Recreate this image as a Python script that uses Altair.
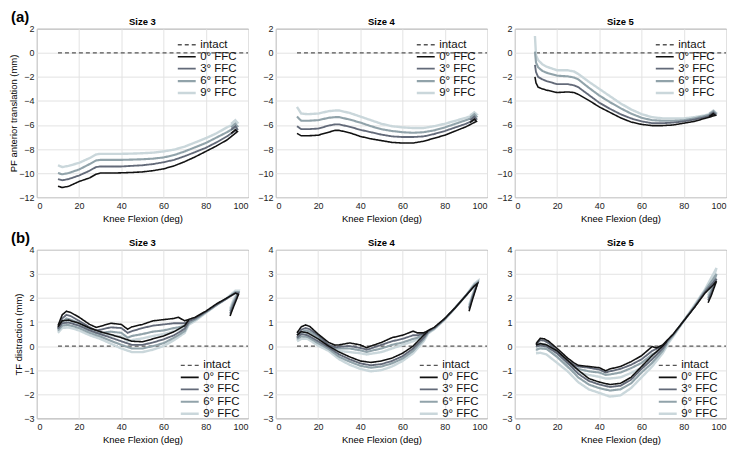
import altair as alt
import pandas as pd

FONT = "Liberation Sans"

SERIES = ["intact", "0° FFC", "3° FFC", "6° FFC", "9° FFC"]
COLORS = ["#555555", "#111111", "#636a79", "#91a3aa", "#cad7db"]
DASHES = [[4, 3], [1, 0], [1, 0], [1, 0], [1, 0]]
WIDTHS = [1.3, 2.4, 2.1, 2.1, 2.1]

SIZES = ["Size 3", "Size 4", "Size 5"]
X_TICKS = [0, 20, 40, 60, 80, 100]
TOP_Y_TICKS = [-12, -10, -8, -6, -4, -2, 0, 2]
BOT_Y_TICKS = [-3, -2, -1, 0, 1, 2, 3, 4]

INTACT_X = [10, 100]
INTACT_Y = [0, 0]

# ---------- (a) PF anterior translation ----------
TOP_X = [10, 12, 15, 20, 25, 28, 30, 35, 40, 45, 50, 55, 60, 65, 70, 75, 80, 85, 90, 95, 94, 92]
top_s3 = {
    "0° FFC": [-11.1, -11.2, -11.1, -10.7, -10.4, -10.1, -10.0, -10.0, -9.98, -9.95, -9.9, -9.8, -9.65, -9.4, -9.05, -8.65, -8.2, -7.75, -7.25, -6.55, -6.4, -6.7],
    "3° FFC": [-10.5, -10.6, -10.5, -10.2, -9.8, -9.5, -9.45, -9.45, -9.45, -9.4, -9.35, -9.25, -9.1, -8.9, -8.6, -8.25, -7.9, -7.45, -6.95, -6.35, -6.1, -6.4],
    "6° FFC": [-10.0, -10.1, -10.0, -9.7, -9.25, -8.95, -8.9, -8.9, -8.9, -8.88, -8.85, -8.8, -8.7, -8.5, -8.2, -7.85, -7.5, -7.05, -6.6, -6.1, -5.9, -6.2],
    "9° FFC": [-9.35, -9.5, -9.4, -9.15, -8.75, -8.45, -8.4, -8.4, -8.4, -8.38, -8.35, -8.3, -8.2, -8.05, -7.8, -7.45, -7.1, -6.7, -6.2, -5.8, -5.6, -5.9],
}
top_s4 = {
    "0° FFC": [-6.7, -6.9, -6.9, -6.85, -6.6, -6.45, -6.45, -6.65, -6.95, -7.15, -7.3, -7.45, -7.5, -7.5, -7.35, -7.1, -6.85, -6.5, -6.15, -5.7, -5.5, -5.8],
    "3° FFC": [-6.1, -6.35, -6.35, -6.3, -6.05, -5.95, -5.95, -6.15, -6.4, -6.6, -6.8, -6.95, -7.0, -7.0, -6.95, -6.75, -6.5, -6.2, -5.9, -5.5, -5.3, -5.6],
    "6° FFC": [-5.3, -5.65, -5.65, -5.6, -5.4, -5.35, -5.35, -5.55, -5.8, -6.1, -6.35, -6.5, -6.6, -6.65, -6.6, -6.45, -6.2, -5.9, -5.6, -5.3, -5.1, -5.4],
    "9° FFC": [-4.5, -5.05, -5.1, -5.05, -4.85, -4.8, -4.8, -5.0, -5.3, -5.6, -5.9, -6.1, -6.2, -6.25, -6.25, -6.1, -5.9, -5.65, -5.4, -5.1, -4.95, -5.2],
}
TOP5_X = [9.5, 10, 11, 13, 15, 20, 25, 28, 30, 35, 40, 45, 50, 55, 60, 65, 70, 75, 80, 85, 90, 95, 94, 92]
top_s5 = {
    "0° FFC": [-2.0, -2.5, -2.85, -3.0, -3.1, -3.3, -3.25, -3.3, -3.45, -3.95, -4.5, -4.95, -5.4, -5.75, -5.95, -6.05, -6.05, -6.0, -5.85, -5.7, -5.45, -5.2, -5.05, -5.3],
    "3° FFC": [-1.0, -1.6, -2.0, -2.2, -2.35, -2.6, -2.6, -2.7, -2.85, -3.5, -4.15, -4.65, -5.1, -5.45, -5.7, -5.85, -5.85, -5.8, -5.7, -5.55, -5.35, -5.1, -4.95, -5.2],
    "6° FFC": [0.1, -0.8, -1.2, -1.5, -1.65, -1.9, -1.95, -2.05, -2.2, -2.9, -3.55, -4.1, -4.6, -5.05, -5.4, -5.6, -5.65, -5.65, -5.6, -5.45, -5.25, -5.0, -4.85, -5.1],
    "9° FFC": [1.4, -0.2, -0.6, -0.95, -1.15, -1.45, -1.45, -1.55, -1.75, -2.4, -3.0, -3.6, -4.2, -4.7, -5.1, -5.35, -5.45, -5.45, -5.45, -5.35, -5.2, -4.95, -4.8, -5.05],
}

# ---------- (b) TF distraction (hysteresis loops) ----------
UP_X = [10, 12, 14, 16, 20, 25, 28, 30, 35, 40, 43, 45, 50, 55, 60, 65, 67, 70, 75, 80, 85, 90, 94, 95.5, 93, 91.5]
DOWN_X = [72, 70, 65, 60, 55, 50, 45, 40, 35, 30, 25, 20, 15, 12, 10]

bot_s3_up = {
    "0° FFC": [0.85, 1.3, 1.45, 1.4, 1.2, 0.9, 0.78, 0.82, 0.95, 0.9, 0.7, 0.8, 0.9, 1.05, 1.1, 1.15, 1.2, 1.05, 1.2, 1.45, 1.75, 2.0, 2.2, 2.15, 1.6, 1.25],
    "3° FFC": [0.75, 1.15, 1.3, 1.25, 1.05, 0.78, 0.65, 0.68, 0.78, 0.75, 0.55, 0.62, 0.75, 0.85, 0.9, 0.95, 0.95, 0.95, 1.15, 1.42, 1.72, 1.98, 2.2, 2.2, 1.7, 1.35],
    "6° FFC": [0.7, 1.0, 1.15, 1.1, 0.95, 0.7, 0.55, 0.55, 0.6, 0.55, 0.35, 0.42, 0.5, 0.6, 0.65, 0.75, 0.78, 0.85, 1.1, 1.4, 1.7, 1.98, 2.25, 2.25, 1.8, 1.45],
    "9° FFC": [0.6, 0.9, 1.0, 0.98, 0.85, 0.6, 0.45, 0.45, 0.45, 0.4, 0.2, 0.25, 0.32, 0.42, 0.5, 0.62, 0.68, 0.78, 1.05, 1.38, 1.7, 2.0, 2.3, 2.3, 1.9, 1.55],
}
bot_s3_down = {
    "0° FFC": [1.1, 0.85, 0.6, 0.42, 0.3, 0.18, 0.2, 0.35, 0.48, 0.6, 0.75, 0.95, 1.08, 1.05, 0.8],
    "3° FFC": [1.02, 0.72, 0.45, 0.28, 0.15, 0.05, 0.05, 0.2, 0.35, 0.5, 0.65, 0.85, 0.98, 0.95, 0.72],
    "6° FFC": [0.95, 0.62, 0.35, 0.12, 0.0, -0.1, -0.1, 0.05, 0.22, 0.4, 0.55, 0.75, 0.88, 0.85, 0.65],
    "9° FFC": [0.9, 0.55, 0.25, 0.0, -0.15, -0.25, -0.25, -0.1, 0.1, 0.3, 0.45, 0.65, 0.78, 0.75, 0.55],
}
bot_s4_up = {
    "0° FFC": [0.55, 0.8, 0.88, 0.82, 0.5, 0.15, 0.04, 0.05, 0.13, 0.05, -0.07, 0.0, 0.15, 0.35, 0.45, 0.62, 0.55, 0.55, 0.78, 1.15, 1.6, 2.1, 2.5, 2.6, 1.9, 1.45],
    "3° FFC": [0.45, 0.68, 0.75, 0.7, 0.45, 0.05, -0.05, -0.03, 0.0, -0.08, -0.15, -0.1, 0.05, 0.2, 0.3, 0.45, 0.45, 0.5, 0.75, 1.13, 1.6, 2.1, 2.5, 2.6, 2.0, 1.55],
    "6° FFC": [0.35, 0.58, 0.65, 0.6, 0.38, 0.0, -0.1, -0.1, -0.1, -0.18, -0.25, -0.2, -0.1, 0.05, 0.15, 0.3, 0.35, 0.45, 0.72, 1.12, 1.6, 2.1, 2.55, 2.65, 2.05, 1.6],
    "9° FFC": [0.25, 0.48, 0.55, 0.5, 0.3, -0.08, -0.18, -0.2, -0.25, -0.3, -0.35, -0.32, -0.25, -0.1, 0.05, 0.2, 0.28, 0.4, 0.7, 1.1, 1.6, 2.1, 2.6, 2.7, 2.1, 1.7],
}
bot_s4_down = {
    "0° FFC": [0.62, 0.45, 0.0, -0.3, -0.5, -0.62, -0.68, -0.62, -0.45, -0.25, 0.0, 0.3, 0.55, 0.6, 0.45],
    "3° FFC": [0.58, 0.35, -0.1, -0.42, -0.62, -0.75, -0.8, -0.72, -0.55, -0.35, -0.05, 0.2, 0.45, 0.5, 0.35],
    "6° FFC": [0.55, 0.28, -0.2, -0.52, -0.72, -0.85, -0.9, -0.82, -0.65, -0.45, -0.12, 0.12, 0.38, 0.4, 0.3],
    "9° FFC": [0.5, 0.2, -0.3, -0.62, -0.85, -1.0, -1.05, -0.95, -0.78, -0.55, -0.2, 0.02, 0.3, 0.3, 0.2],
}
bot_s5_up = {
    "0° FFC": [0.1, 0.32, 0.3, 0.2, -0.1, -0.5, -0.7, -0.8, -0.85, -0.9, -1.03, -0.95, -0.85, -0.65, -0.4, -0.02, -0.08, 0.05, 0.5, 1.05, 1.6, 2.2, 2.55, 2.7, 2.1, 1.8],
    "3° FFC": [0.05, 0.25, 0.22, 0.12, -0.2, -0.6, -0.78, -0.85, -0.9, -0.98, -1.1, -1.05, -0.95, -0.78, -0.55, -0.2, -0.12, 0.0, 0.48, 1.05, 1.62, 2.25, 2.65, 2.8, 2.2, 1.9],
    "6° FFC": [-0.05, 0.1, 0.08, 0.0, -0.3, -0.72, -0.88, -0.95, -1.05, -1.1, -1.2, -1.18, -1.1, -0.92, -0.7, -0.35, -0.25, -0.08, 0.45, 1.05, 1.65, 2.3, 2.8, 3.0, 2.3, 2.0],
    "9° FFC": [-0.2, -0.05, -0.08, -0.15, -0.45, -0.88, -1.05, -1.1, -1.2, -1.28, -1.35, -1.35, -1.3, -1.12, -0.9, -0.5, -0.38, -0.2, 0.4, 1.05, 1.7, 2.35, 3.0, 3.25, 2.5, 2.1],
}
bot_s5_down = {
    "0° FFC": [0.2, 0.0, -0.4, -0.85, -1.3, -1.55, -1.6, -1.5, -1.35, -1.0, -0.6, -0.2, 0.05, 0.1, 0.05],
    "3° FFC": [0.15, -0.1, -0.55, -0.95, -1.4, -1.65, -1.7, -1.6, -1.45, -1.15, -0.7, -0.3, -0.02, 0.02, 0.0],
    "6° FFC": [0.1, -0.2, -0.7, -1.1, -1.55, -1.8, -1.85, -1.75, -1.6, -1.3, -0.85, -0.45, -0.12, -0.1, -0.15],
    "9° FFC": [0.0, -0.3, -0.85, -1.3, -1.75, -2.05, -2.1, -1.95, -1.8, -1.5, -1.05, -0.7, -0.35, -0.28, -0.3],
}

# ---------- build long table ----------
rows = []


def add(panel, series, seg, xs, ys):
    for i, (x, y) in enumerate(zip(xs, ys)):
        rows.append(dict(panel=panel, series=series, seg=seg, order=i, x=x, y=y))


top_sets = [(TOP_X, top_s3), (TOP_X, top_s4), (TOP5_X, top_s5)]
bot_sets = [(bot_s3_up, bot_s3_down), (bot_s4_up, bot_s4_down), (bot_s5_up, bot_s5_down)]

for k, (xs, d) in enumerate(top_sets):
    p = "a" + SIZES[k]
    add(p, "intact", "i", INTACT_X, INTACT_Y)
    for s in ["9° FFC", "6° FFC", "3° FFC", "0° FFC"]:
        add(p, s, "u", xs, d[s])

for k, (du, dd) in enumerate(bot_sets):
    p = "b" + SIZES[k]
    add(p, "intact", "i", INTACT_X, INTACT_Y)
    for s in ["9° FFC", "6° FFC", "3° FFC", "0° FFC"]:
        add(p, s, "u", UP_X, du[s])
        add(p, s, "d", DOWN_X, dd[s])

df = pd.DataFrame(rows)

W, H = 212, 169


def panel(rowkey, k):
    p = rowkey + SIZES[k]
    top = rowkey == "a"
    ydom = [-12, 2] if top else [-3, 4]
    yticks = TOP_Y_TICKS if top else BOT_Y_TICKS
    ytitle = "PF anterior translation (mm)" if top else "TF distraction (mm)"
    yaxis_kwargs = dict(values=yticks, labelFontSize=9, titleFontSize=9.5,
                        titleFontWeight="normal", labelPadding=3, ticks=False,
                        domain=False, gridColor="#e3e3e3", labelColor="#222")
    if k == 0:
        yaxis = alt.Axis(title=ytitle, titlePadding=0, **yaxis_kwargs)
    else:
        yaxis = alt.Axis(title="", **yaxis_kwargs)
    legend = alt.Legend(
        title=None,
        orient="none",
        legendX=140 if top else 143,
        legendY=10 if top else 110,
        padding=0,
        rowPadding=0,
        labelFontSize=11.5,
        labelFont=FONT,
        labelColor="#111",
        labelOffset=7,
        symbolType="M-1.8,0H1.8",
        symbolSize=100,
        symbolOffset=4,
        symbolStrokeWidth=2,
    )
    lines = alt.Chart(df[df.panel == p]).mark_line(strokeCap="butt").encode(
        x=alt.X("x:Q", scale=alt.Scale(domain=[0, 100], nice=False),
                axis=alt.Axis(values=X_TICKS, title="Knee Flexion (deg)", labelFontSize=9,
                              titleFontSize=9.5, titleFontWeight="normal", ticks=False,
                              domain=False, gridColor="#e3e3e3", labelPadding=4,
                              labelColor="#222", titlePadding=3)),
        y=alt.Y("y:Q", scale=alt.Scale(domain=ydom, nice=False), axis=yaxis),
        color=alt.Color("series:N", scale=alt.Scale(domain=SERIES, range=COLORS), legend=legend),
        strokeDash=alt.StrokeDash("series:N", scale=alt.Scale(domain=SERIES, range=DASHES), legend=legend),
        strokeWidth=alt.StrokeWidth("series:N", scale=alt.Scale(domain=SERIES, range=WIDTHS), legend=legend),
        detail="seg:N",
        order="order:Q",
    )
    ttl = alt.Chart(pd.DataFrame({"t": [SIZES[k]]})).mark_text(
        align="center", baseline="middle", fontSize=9.5, fontWeight="bold", font=FONT, color="#000"
    ).encode(x=alt.value(W / 2), y=alt.value(-7), text="t:N")
    layers = [lines, ttl]
    if k == 0:
        lab = alt.Chart(pd.DataFrame({"t": ["(a)" if top else "(b)"]})).mark_text(
            align="left", baseline="middle", fontSize=15, fontWeight="bold", font=FONT, color="#000"
        ).encode(x=alt.value(-26), y=alt.value(-12), text="t:N")
        layers.append(lab)
    return alt.layer(*layers).properties(width=W, height=H)


panels = [panel("a", k) for k in range(3)] + [panel("b", k) for k in range(3)]

chart = alt.concat(*panels, columns=3, spacing={"row": 53, "column": 28}, bounds="flush",
                   padding=0).resolve_scale(
    color="independent", strokeDash="independent", strokeWidth="independent"
).resolve_legend(
    color="independent", strokeDash="independent", strokeWidth="independent"
).configure(font=FONT).configure_view(stroke="#444", strokeWidth=1).configure_axis(
    labelFont=FONT, titleFont=FONT
)

chart.save("out.html", embed_options={"renderer": "svg", "actions": False})
